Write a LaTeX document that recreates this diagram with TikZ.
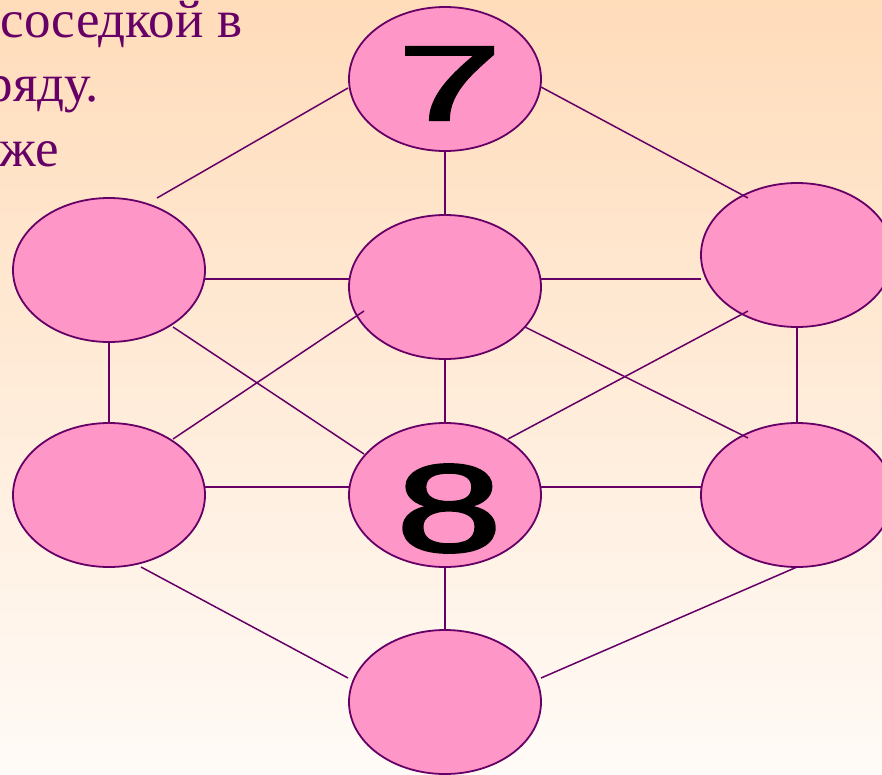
\documentclass[tikz,border=0pt]{standalone}
\usepackage{fontspec}
\usepackage{graphicx}
\setmainfont{Liberation Serif}
\newfontfamily\digitfont{Liberation Sans}[FakeBold=2]
\usetikzlibrary{shapes.geometric,calc}
\definecolor{plum}{HTML}{660066}
\definecolor{pinkfill}{HTML}{FF96C8}
\definecolor{peachtop}{HTML}{FFDCBA}
\definecolor{peachbot}{HTML}{FFFBF7}
\tikzset{
  oval/.style={ellipse, draw=plum, fill=pinkfill, line width=1.8pt,
    minimum width=192pt, minimum height=144pt, inner sep=0pt, outer sep=0pt},
  link/.style={draw=plum, line width=1.5pt},
  snippet/.style={inner sep=0pt, outer sep=0pt, text=plum,
    font=\fontsize{53pt}{63pt}\selectfont},
  digit/.style={inner sep=0pt, outer sep=0pt, text=black}
}
\begin{document}
\begin{tikzpicture}[x=1pt,y=-1pt]
\useasboundingbox (0,0) rectangle (882,774);
\clip (0,0) rectangle (882,774);
\fill[top color=peachtop, bottom color=peachbot] (0,0) rectangle (882,774);

% text fragments
\node[snippet, anchor=base east] (l1) at (242,37) {соседкой в};
\node[snippet, anchor=base east] (l2) at (99,101) {ряду.};
\node[snippet, anchor=base east] (l3) at (59,166) {же};

% ellipses
\node[oval] (T)  at (445,79)  {};
\node[oval] (LU) at (109,270) {};
\node[oval] (M)  at (445,287) {};
\node[oval] (RU) at (797,255) {};
\node[oval] (LL) at (109,495) {};
\node[oval] (C)  at (445,495) {};
\node[oval] (RL) at (797,495) {};
\node[oval] (B)  at (445,702) {};

% digits
\node[digit] (seven) at (449.5,83.5) {\resizebox{104pt}{73pt}{\digitfont 7}};
\node[digit] (eight) at (449,508.5) {\resizebox{106pt}{87pt}{\digitfont 8}};

% connectors
\draw[link] ($(T)+(-97,9)$) -- ($(LU)+(48,-72)$);
\draw[link] ($(T)+(96,8)$) -- ($(RU)+(-49,-57)$);
\draw[link] ($(T)+(0,72)$) -- ($(M)+(0,-72)$);
\draw[link] ($(LU)+(96,9)$) -- ($(M)+(-96,-8)$);
\draw[link] ($(M)+(96,-8)$) -- ($(RU)+(-96,24)$);
\draw[link] ($(LU)+(0,73)$) -- ($(LL)+(0,-72)$);
\draw[link] ($(RU)+(0,72)$) -- ($(RL)+(0,-72)$);
\draw[link] ($(LU)+(64,57)$) -- ($(C)+(-81,-41)$);
\draw[link] ($(M)+(-81,24)$) -- ($(LL)+(64,-56)$);
\draw[link] ($(M)+(0,72)$) -- ($(C)+(0,-72)$);
\draw[link] ($(M)+(80,40)$) -- ($(RL)+(-49,-57)$);
\draw[link] ($(RU)+(-49,56)$) -- ($(C)+(63,-56)$);
\draw[link] ($(LL)+(96,-8)$) -- ($(C)+(-96,-8)$);
\draw[link] ($(C)+(96,-8)$) -- ($(RL)+(-96,-8)$);
\draw[link] ($(LL)+(32,72)$) -- ($(B)+(-97,-24)$);
\draw[link] ($(C)+(0,72)$) -- ($(B)+(0,-71)$);
\draw[link] ($(RL)+(0,72)$) -- ($(B)+(96,-24)$);
\end{tikzpicture}
\end{document}
